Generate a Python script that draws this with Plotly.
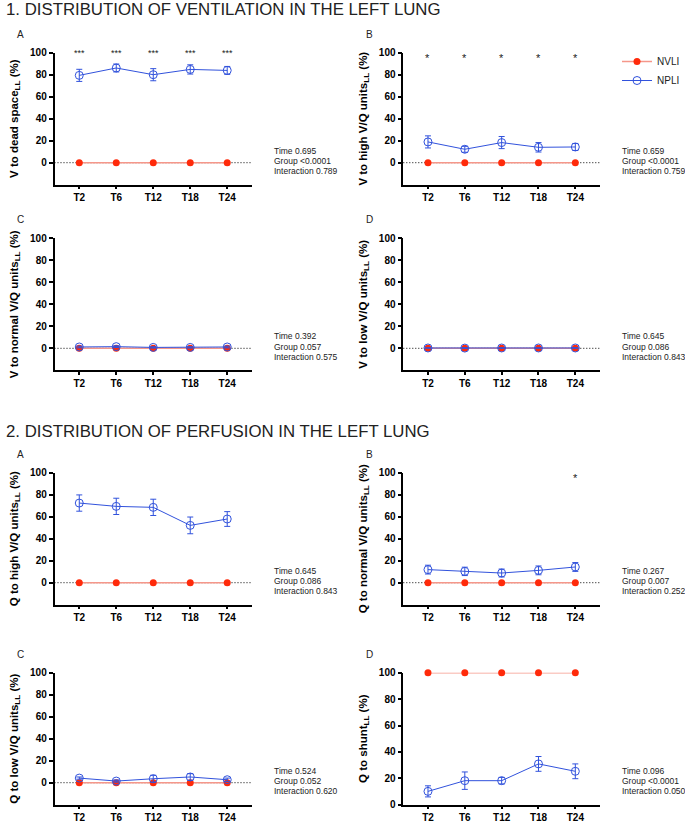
import plotly.graph_objects as go

# ---------------- data ----------------
timepoints = ["T2", "T6", "T12", "T18", "T24"]

# Section 1: distribution of ventilation in the left lung
v_dead_nvli = [0, 0, 0, 0, 0]
v_dead_npli = [79.4, 86.1, 80.0, 84.8, 83.9]
v_dead_npli_err = [5.5, 3.6, 5.5, 4.2, 3.6]

v_high_nvli = [0, 0, 0, 0, 0]
v_high_npli = [18.9, 12.2, 18.3, 14.0, 14.3]
v_high_npli_err = [5.5, 2.7, 5.5, 4.3, 3.2]

v_normal_nvli = [0, 0, 0, 0, 0]
v_normal_npli = [1.2, 1.5, 0.8, 0.8, 1.2]
v_normal_npli_err = [0.8, 0.8, 0.6, 0.6, 0.8]

v_low_nvli = [0, 0, 0, 0, 0]
v_low_npli = [0.3, 0.2, 0.3, 0.3, 0.3]
v_low_npli_err = [0.2, 0.2, 0.2, 0.2, 0.2]

# Section 2: distribution of perfusion in the left lung
q_high_nvli = [0, 0, 0, 0, 0]
q_high_npli = [72.4, 69.4, 68.5, 52.1, 57.9]
q_high_npli_err = [7.4, 7.4, 7.4, 7.6, 6.7]

q_normal_nvli = [0, 0, 0, 0, 0]
q_normal_npli = [11.9, 10.3, 8.8, 11.2, 14.3]
q_normal_npli_err = [4.0, 3.8, 3.6, 4.0, 4.0]

q_low_nvli = [0, 0, 0, 0, 0]
q_low_npli = [4.2, 1.5, 3.6, 5.2, 2.7]
q_low_npli_err = [1.0, 1.0, 3.2, 3.0, 1.5]

q_shunt_nvli = [100, 100, 100, 100, 100]
q_shunt_npli = [10.1, 18.2, 18.2, 30.9, 25.3]
q_shunt_npli_err = [4.2, 6.6, 2.5, 5.6, 5.6]

# significance marks per time point
stars_v_dead = ["***", "***", "***", "***", "***"]
stars_v_high = ["*", "*", "*", "*", "*"]
stars_q_high = ["***", "***", "***", "***", "***"]
stars_q_normal = ["", "", "", "", "*"]
stars_q_shunt = ["***", "***", "***", "***", "***"]

# y-axis titles
ytitles = [
    "V to dead space<sub>LL</sub> (%)",
    "V to high V/Q units<sub>LL</sub> (%)",
    "V to normal V/Q units<sub>LL</sub> (%)",
    "V to low V/Q units<sub>LL</sub> (%)",
    "Q to high V/Q units<sub>LL</sub> (%)",
    "Q to normal V/Q units<sub>LL</sub> (%)",
    "Q to low V/Q units<sub>LL</sub> (%)",
    "Q to shunt<sub>LL</sub> (%)",
]
panel_letters = ["A", "B", "C", "D", "A", "B", "C", "D"]
stats_time = ["0.695", "0.659", "0.392", "0.645", "0.645", "0.267", "0.524", "0.096"]
stats_group = ["<0.0001", "<0.0001", "0.057", "0.086", "0.086", "0.007", "0.052", "<0.0001"]
stats_inter = ["0.789", "0.759", "0.575", "0.843", "0.843", "0.252", "0.620", "0.050"]

section_titles = [
    "1. DISTRIBUTION OF VENTILATION IN THE LEFT LUNG",
    "2. DISTRIBUTION OF PERFUSION IN THE LEFT LUNG",
]

# ---------------- layout geometry (pixels) ----------------
W, H = 685, 822
FONT = "Liberation Sans, Arial, sans-serif"
RED = "#FF2A0A"
RED_LINE = "#F5978A"
BLUE = "#3152DC"

col_x = [(54.5, 252.0), (403.3, 600.0)]
row_y = [(52.7, 184.7), (238.3, 370.3), (472.7, 604.7), (672.7, 804.7)]

panels = [
    (v_dead_nvli, v_dead_npli, v_dead_npli_err, stars_v_dead, 100, 9),
    (v_high_nvli, v_high_npli, v_high_npli_err, stars_v_high, 95, 11),
    (v_normal_nvli, v_normal_npli, v_normal_npli_err, None, 0, 9),
    (v_low_nvli, v_low_npli, v_low_npli_err, None, 0, 9),
    (q_high_nvli, q_high_npli, q_high_npli_err, stars_q_high, 101, 8),
    (q_normal_nvli, q_normal_npli, q_normal_npli_err, stars_q_normal, 95, 11),
    (q_low_nvli, q_low_npli, q_low_npli_err, None, 0, 9),
    (q_shunt_nvli, q_shunt_npli, q_shunt_npli_err, stars_q_shunt, 114, 8.5),
]

def px_x(p):
    return p / W

def px_y(p):
    return 1 - p / H

fig = go.Figure()
annotations = []
shapes = []
layout_axes = {}

for k, (nvli, npli, npli_err, stars, star_y, star_size) in enumerate(panels):
    r, c = divmod(k, 2)
    idx = "" if k == 0 else str(k + 1)
    xa, ya = "x" + idx, "y" + idx
    shunt = (k == 7)

    fig.add_trace(go.Scatter(
        x=timepoints, y=nvli, name="NVLI", mode="lines+markers",
        xaxis=xa, yaxis=ya, legendgroup="NVLI", showlegend=(k == 0),
        line=dict(color=RED_LINE, width=1.5),
        marker=dict(color=RED, size=7, symbol="circle"),
        cliponaxis=False,
    ))
    fig.add_trace(go.Scatter(
        x=timepoints, y=npli, name="NPLI", mode="lines+markers",
        xaxis=xa, yaxis=ya, legendgroup="NPLI", showlegend=(k == 0),
        line=dict(color=BLUE, width=1),
        marker=dict(color=BLUE, size=8, symbol="circle-open", line=dict(width=1, color=BLUE)),
        error_y=dict(type="data", array=npli_err, visible=True, color=BLUE, thickness=1, width=3),
        cliponaxis=False,
    ))

    x0, x1 = col_x[c]
    y0, y1 = row_y[r]
    layout_axes["xaxis" + idx] = dict(
        domain=[px_x(x0), px_x(x1)], anchor=ya, range=[-0.67, 4.67],
        showline=True, linecolor="black", linewidth=1.5, mirror=False,
        ticks="outside", ticklen=3, tickwidth=1.5, tickcolor="black",
        tickfont=dict(family=FONT, size=10, color="black", weight="bold"),
        showgrid=False, zeroline=False, automargin=False, fixedrange=True,
    )
    layout_axes["yaxis" + idx] = dict(
        domain=[px_y(y1), px_y(y0)], anchor=xa,
        range=[0, 100] if shunt else [-20, 100],
        tickvals=[0, 20, 40, 60, 80, 100],
        showline=True, linecolor="black", linewidth=1.5,
        ticks="outside", ticklen=4, tickwidth=1.5, tickcolor="black",
        tickfont=dict(family=FONT, size=10, color="black", weight="bold"),
        title=dict(text=ytitles[k], standoff=9,
                   font=dict(family=FONT, size=11.5, color="black", weight="bold")),
        showgrid=False, zeroline=False, automargin=False, fixedrange=True,
    )

    if not shunt:
        shapes.append(dict(type="line", xref=xa + " domain", yref=ya,
                           x0=0, x1=1, y0=0, y1=0, layer="below",
                           line=dict(color="black", width=1, dash="1px,2px")))

    # significance stars
    if stars is not None:
        for t, s in zip(timepoints, stars):
            if s:
                annotations.append(dict(xref=xa, yref=ya, x=t, y=star_y, text=s,
                                        showarrow=False, xanchor="center", yanchor="middle",
                                        font=dict(family=FONT, size=star_size, color="#222")))

    # panel letter
    annotations.append(dict(xref="paper", yref="paper",
                            x=px_x(20 if c == 0 else 369), y=px_y(y0 - 18.5),
                            text=panel_letters[k], showarrow=False,
                            xanchor="center", yanchor="middle",
                            font=dict(family=FONT, size=10, color="#222")))

    # statistics text
    sx = 271.7 if c == 0 else 620.0
    for off, txt in [(34.0, "Time " + stats_time[k]),
                     (23.7, "Group " + stats_group[k]),
                     (13.4, "Interaction " + stats_inter[k])]:
        annotations.append(dict(xref="paper", yref="paper", x=px_x(sx), y=px_y(y1 - off),
                                text=txt, showarrow=False, xanchor="left", yanchor="middle",
                                font=dict(family=FONT, size=8.5, color="#222")))

# section titles
for txt, ypx in zip(section_titles, [9.5, 431.0]):
    annotations.append(dict(xref="paper", yref="paper", x=px_x(4), y=px_y(ypx),
                            text=txt, showarrow=False, xanchor="left", yanchor="middle",
                            font=dict(family=FONT, size=16.8, color="#222")))

fig.update_layout(
    width=W, height=H, autosize=False,
    margin=dict(l=0, r=0, t=0, b=0, pad=0),
    paper_bgcolor="white", plot_bgcolor="white",
    font=dict(family=FONT, color="black"),
    showlegend=True,
    legend=dict(x=px_x(617), y=px_y(47), xanchor="left", yanchor="top",
                bgcolor="rgba(0,0,0,0)", font=dict(family=FONT, size=10, color="#222"),
                tracegroupgap=0, itemwidth=30),
    annotations=annotations,
    shapes=shapes,
    **layout_axes,
)

fig.write_html(
    "out.html",
    config={"displayModeBar": False},
    post_script="document.body.style.margin='0px';document.body.style.overflow='hidden';",
)
